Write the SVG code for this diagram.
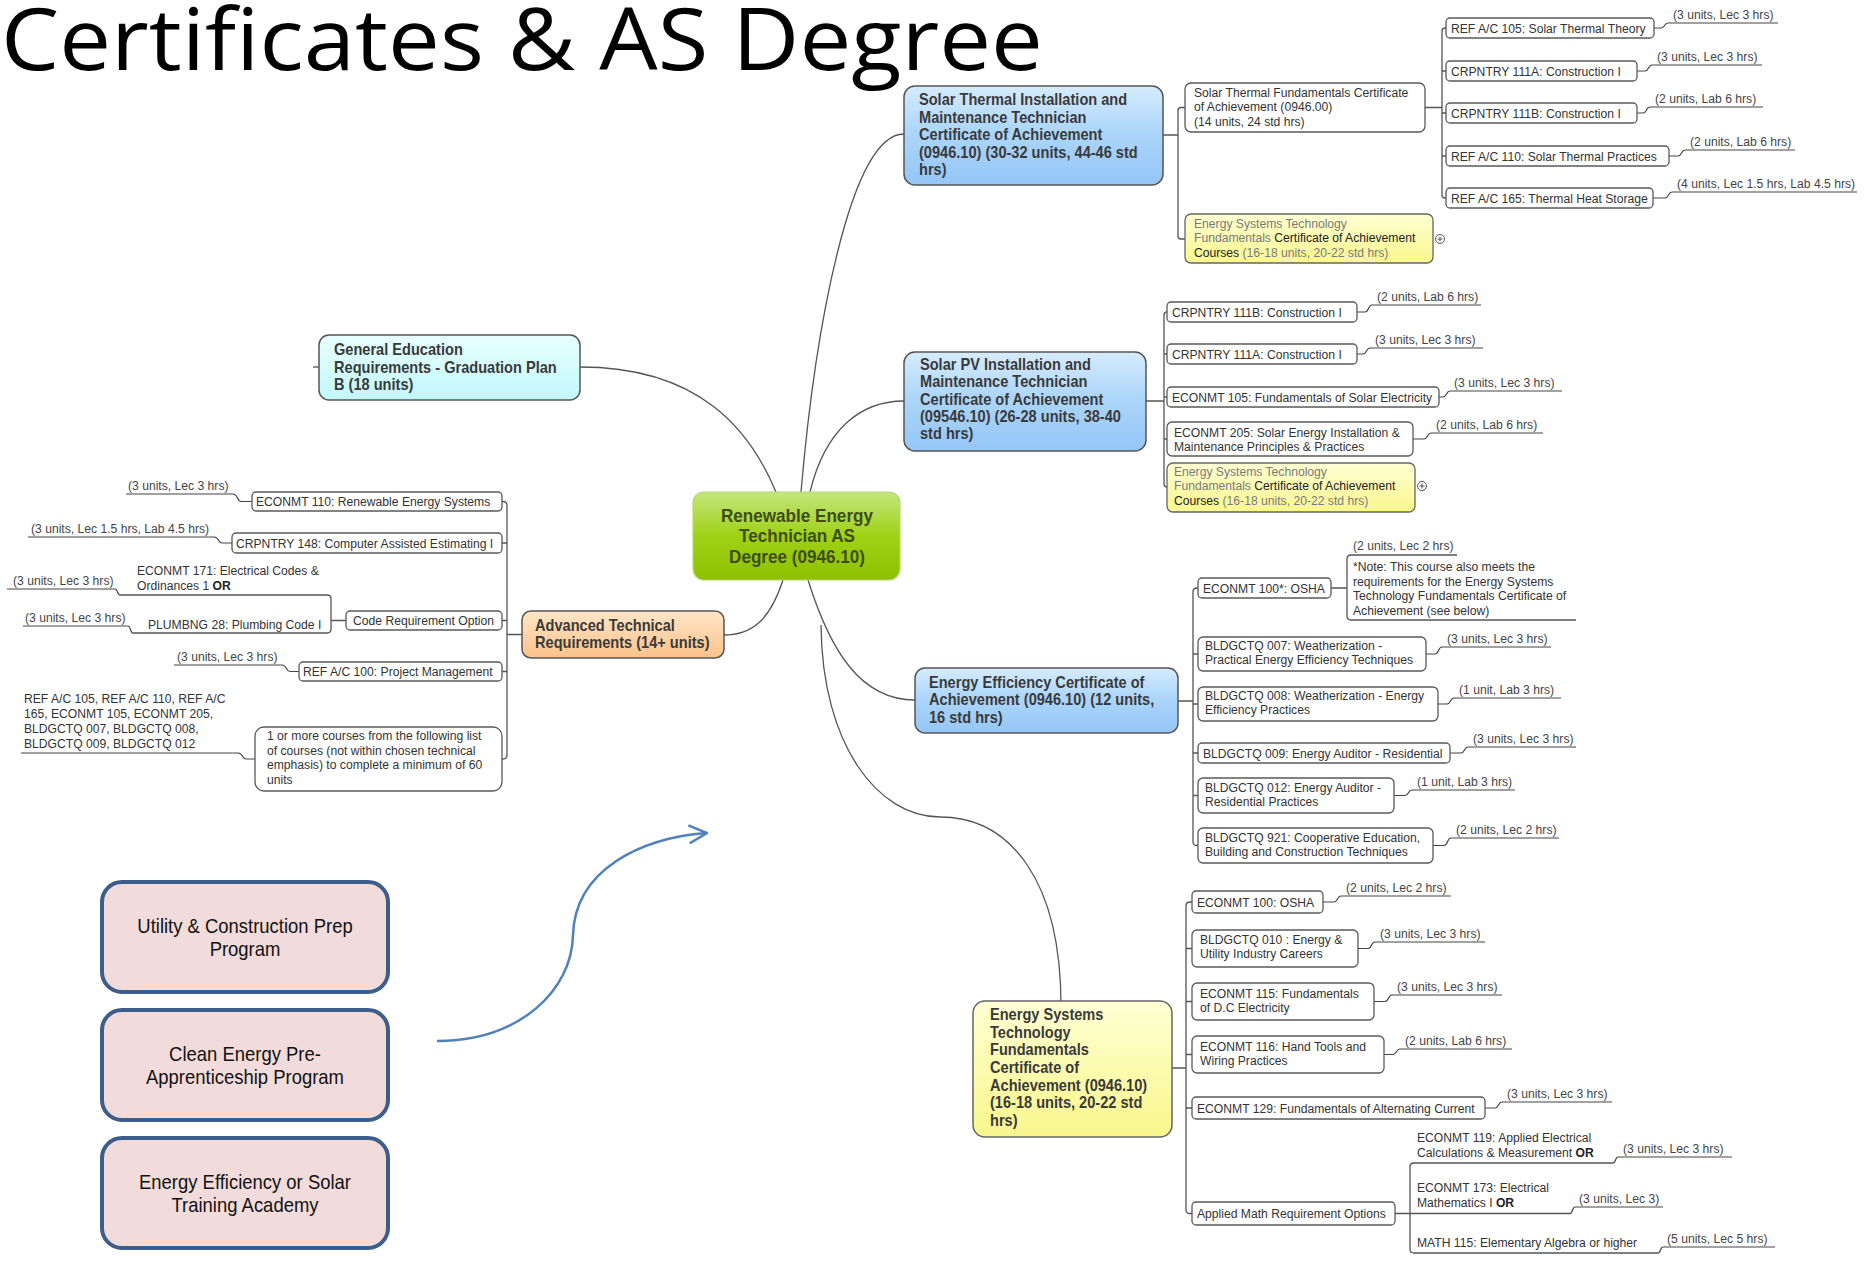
<svg xmlns="http://www.w3.org/2000/svg" width="1865" height="1261" viewBox="0 0 1865 1261">
<defs>
<style>
.c{font-family:"Liberation Sans",Arial,sans-serif;font-size:13.5px;fill:#333}
.l{font-family:"Liberation Sans",Arial,sans-serif;font-size:13.5px;fill:#444}
.b{font-family:"Liberation Sans",Arial,sans-serif;font-size:16.2px;font-weight:bold;fill:#3a3a3a}
.ctr{font-family:"Liberation Sans",Arial,sans-serif;font-size:19px;font-weight:bold;fill:#3e4d16;text-anchor:middle}
.g{fill:#7a7a7a}
.k{fill:#222}
.o{font-weight:bold;fill:#222}
.box{fill:#fff;stroke:#5a5a5a;stroke-width:1.3}
.ln{fill:none;stroke:#555;stroke-width:1.3}
.ul{fill:none;stroke:#444;stroke-width:1.2}
.pk{fill:#f2dcdb;stroke:#3b5e8c;stroke-width:4}
.pt{font-family:"Liberation Sans",Arial,sans-serif;font-size:20.5px;fill:#111;text-anchor:middle}
.nb{stroke:#555;stroke-width:1.5}
</style>
<linearGradient id="gb" x1="0" y1="0" x2="0" y2="1"><stop offset="0" stop-color="#d6ecfd"/><stop offset=".45" stop-color="#add6fa"/><stop offset="1" stop-color="#94c6f6"/></linearGradient>
<linearGradient id="gc" x1="0" y1="0" x2="0" y2="1"><stop offset="0" stop-color="#e8ffff"/><stop offset="1" stop-color="#c2f8fb"/></linearGradient>
<linearGradient id="go" x1="0" y1="0" x2="0" y2="1"><stop offset="0" stop-color="#ffe6c8"/><stop offset="1" stop-color="#fbc28a"/></linearGradient>
<linearGradient id="gy" x1="0" y1="0" x2="0" y2="1"><stop offset="0" stop-color="#ffffd4"/><stop offset="1" stop-color="#f9f78c"/></linearGradient>
<linearGradient id="gg" x1="0" y1="0" x2="0" y2="1"><stop offset="0" stop-color="#c4e67e"/><stop offset=".5" stop-color="#9fd116"/><stop offset="1" stop-color="#8dc100"/></linearGradient>
<marker id="ah" viewBox="0 0 20 20" refX="19" refY="10" markerWidth="20" markerHeight="20" markerUnits="userSpaceOnUse" orient="auto"><path d="M1,1 L19,10 L1,19" fill="none" stroke="#4f81bd" stroke-width="2.5"/></marker>
</defs>
<rect width="1865" height="1261" fill="#fff"/>

<text id="title" x="1" y="70" font-family="'Open Sans',sans-serif" font-size="86" fill="#000" textLength="1042" lengthAdjust="spacingAndGlyphs">Certificates &amp; AS Degree</text>

<g id="connectors">
<path class="ln" d="M580,367 C700,367 750,430 776,492"/>
<path class="ln" d="M313,367 H319"/>
<path class="ln" d="M801,492 C815,330 850,134 904,134"/>
<path class="ln" d="M810,492 C825,430 860,401 904,401"/>
<path class="ln" d="M783,580 C770,620 752,635 724,635"/>
<path class="ln" d="M808,580 C830,650 860,700 915,700"/>
<path class="ln" d="M821,625 C822,745 878,817 940,817 C1010,817 1061,880 1061,1006"/>
<path class="ln" d="M1163,135 H1178 M1185,107.5 H1181 Q1178,107.5 1178,110.5 V236 Q1178,239 1181,239 H1185"/>
<path class="ln" d="M1425,107.5 H1442 M1446,28 H1445 Q1442,28 1442,31 V195 Q1442,198 1445,198 H1446 M1442,71 H1446 M1442,113 H1446 M1442,156 H1446"/>
<path class="ln" d="M1146,401 H1164 M1167,312 Q1164,312 1164,315 V484 Q1164,487 1167,487 M1164,354 H1167 M1164,397 H1167 M1164,439 H1167"/>
<path class="ln" d="M1178,701 H1193 M1198,588 H1197 Q1193,588 1193,592 V842 Q1193,845.5 1197,845.5 H1198 M1193,654 H1198 M1193,704 H1198 M1193,753 H1198 M1193,795.5 H1198"/>
<path class="ln" d="M1331,588 H1347 M1457,555 H1351 Q1347,555 1347,559 V616 Q1347,620 1351,620 H1576"/>
<path class="ln" d="M1172,1068 H1186 M1192,902 H1190 Q1186,902 1186,906 V1210 Q1186,1213.5 1190,1213.5 H1192 M1186,948.5 H1192 M1186,1001.5 H1192 M1186,1054.5 H1192 M1186,1108 H1192"/>
<path class="ln" d="M1395,1213.5 H1570 M1613,1163 H1414 Q1410,1163 1410,1167 V1249 Q1410,1253 1414,1253 H1658"/>
<path class="ln" d="M522,634.5 H507 M502,501.5 H503 Q507,501.5 507,505.5 V755 Q507,759 503,759 H502 M502,543 H507 M502,620.5 H507 M502,671.5 H507"/>
<path class="ln" d="M346,620.5 H331 M120,595 H327 Q331,595 331,599 V629 Q331,633 327,633 H133"/>
<path class="ul" d="M1654,28 H1661 C1665,28 1664,23 1668,23 H1778"/>
<path class="ul" d="M1637,71 H1645 C1649,71 1648,65 1652,65 H1762"/>
<path class="ul" d="M1637,113 H1643 C1647,113 1646,107 1650,107 H1763"/>
<path class="ul" d="M1669,156 H1678 C1682,156 1681,150 1685,150 H1795"/>
<path class="ul" d="M1653,198 H1665 C1669,198 1668,192 1672,192 H1857"/>
<path class="ul" d="M1357,312 H1365 C1369,312 1368,305 1372,305 H1481"/>
<path class="ul" d="M1357,354 H1363 C1367,354 1366,348 1370,348 H1483"/>
<path class="ul" d="M1439,397 H1443 C1447,397 1446,391 1450,391 H1562"/>
<path class="ul" d="M1413,439 H1424 C1428,439 1427,433 1431,433 H1543"/>
<path class="ul" d="M1426,654 H1435 C1439,654 1438,647 1442,647 H1551"/>
<path class="ul" d="M1438,704 H1447 C1451,704 1450,698 1454,698 H1561"/>
<path class="ul" d="M1450,753 H1461 C1465,753 1464,747 1468,747 H1576"/>
<path class="ul" d="M1394,795.5 H1405 C1409,795.5 1408,790 1412,790 H1515"/>
<path class="ul" d="M1433,845.5 H1444 C1448,845.5 1447,838 1451,838 H1559"/>
<path class="ul" d="M1323,902 H1334 C1338,902 1337,896 1341,896 H1451"/>
<path class="ul" d="M1358,948.5 H1368 C1372,948.5 1371,942 1375,942 H1485"/>
<path class="ul" d="M1374,1001.5 H1385 C1389,1001.5 1388,995 1392,995 H1502"/>
<path class="ul" d="M1384,1054.5 H1393 C1397,1054.5 1396,1049 1400,1049 H1512"/>
<path class="ul" d="M1485,1108 H1495 C1499,1108 1498,1102 1502,1102 H1612"/>
<path class="ul" d="M1613,1163 C1616,1163 1615,1157 1618,1157 H1732"/>
<path class="ul" d="M1570,1213.5 C1573,1213.5 1572,1207 1575,1207 H1663"/>
<path class="ul" d="M1658,1253 C1661,1253 1660,1247 1663,1247 H1775"/>
<path class="ul" d="M252,501.5 H241 C237,501.5 238,494 233,494 H126"/>
<path class="ul" d="M232,543 H222 C218,543 219,537 214,537 H28"/>
<path class="ul" d="M120,595 C117,595 118,589 115,589 H7"/>
<path class="ul" d="M133,633 C130,633 131,626 128,626 H23"/>
<path class="ul" d="M299,671.5 H290 C286,671.5 287,665 282,665 H174"/>
<path class="ul" d="M255,759 H246 C242,759 243,753 238,753 H21"/>
<path d="M437,1041 C520,1041 572,990 573,935 C575,870 640,838 707,833" fill="none" stroke="#4f81bd" stroke-width="2.5" marker-end="url(#ah)"/>
</g>

<g id="center">
<rect x="693" y="492" width="207" height="88" rx="11" fill="url(#gg)" stroke="#b3d77a" stroke-width="1.2"/>
<text class="ctr" transform="translate(797,522) scale(.9,1)"><tspan x="0">Renewable Energy</tspan><tspan x="0" dy="20.5">Technician AS</tspan><tspan x="0" dy="20.5">Degree (0946.10)</tspan></text>
</g>

<g id="gen-ed">
<rect x="319" y="335" width="261" height="65" rx="10" fill="url(#gc)" class="nb"/>
<text class="b" transform="translate(334,355) scale(.9,1)"><tspan x="0">General Education</tspan><tspan x="0" dy="17.6">Requirements - Graduation Plan</tspan><tspan x="0" dy="17.6">B (18 units)</tspan></text>
</g>

<g id="solar-thermal">
<rect x="904" y="86" width="259" height="99" rx="11" fill="url(#gb)" class="nb"/>
<text class="b" transform="translate(919,105) scale(.9,1)"><tspan x="0">Solar Thermal Installation and</tspan><tspan x="0" dy="17.6">Maintenance Technician</tspan><tspan x="0" dy="17.6">Certificate of Achievement</tspan><tspan x="0" dy="17.6">(0946.10) (30-32 units, 44-46 std</tspan><tspan x="0" dy="17.6">hrs)</tspan></text>
</g>

<g id="st-fundamentals">
<rect class="box" x="1185" y="83" width="240" height="49" rx="6"/>
<text class="c" transform="translate(1194,97) scale(.9,1)"><tspan x="0">Solar Thermal Fundamentals Certificate</tspan><tspan x="0" dy="14.5">of Achievement (0946.00)</tspan><tspan x="0" dy="14.5">(14 units, 24 std hrs)</tspan></text>
</g>
<g id="st-ref105"><rect class="box" x="1446" y="18" width="208" height="20" rx="4"/><text class="c" transform="translate(1451,33) scale(.9,1)">REF A/C 105: Solar Thermal Theory</text><text class="l" transform="translate(1673,19) scale(.9,1)">(3 units, Lec 3 hrs)</text></g>
<g id="st-111a"><rect class="box" x="1446" y="61" width="191" height="20" rx="4"/><text class="c" transform="translate(1451,75.5) scale(.9,1)">CRPNTRY 111A:  Construction I</text><text class="l" transform="translate(1657,61) scale(.9,1)">(3 units, Lec 3 hrs)</text></g>
<g id="st-111b"><rect class="box" x="1446" y="103" width="191" height="20" rx="4"/><text class="c" transform="translate(1451,117.5) scale(.9,1)">CRPNTRY 111B:  Construction I</text><text class="l" transform="translate(1655,103) scale(.9,1)">(2 units, Lab 6 hrs)</text></g>
<g id="st-ref110"><rect class="box" x="1446" y="146" width="223" height="20" rx="4"/><text class="c" transform="translate(1451,160.5) scale(.9,1)">REF A/C 110: Solar Thermal Practices</text><text class="l" transform="translate(1690,146) scale(.9,1)">(2 units, Lab 6 hrs)</text></g>
<g id="st-ref165"><rect class="box" x="1446" y="188" width="207" height="20" rx="4"/><text class="c" transform="translate(1451,203) scale(.9,1)">REF A/C 165: Thermal Heat Storage</text><text class="l" transform="translate(1677,188) scale(.9,1)">(4 units, Lec 1.5 hrs, Lab 4.5 hrs)</text></g>
<g id="st-energy-systems">
<rect x="1185" y="214" width="248" height="49" rx="6" fill="url(#gy)" stroke="#666" stroke-width="1.3"/>
<text class="c" transform="translate(1194,228) scale(.9,1)"><tspan x="0" class="g">Energy Systems Technology</tspan><tspan x="0" dy="14.5"><tspan class="g">Fundamentals</tspan><tspan class="k"> Certificate of Achievement</tspan></tspan><tspan x="0" dy="14.5"><tspan class="k">Courses</tspan><tspan class="g"> (16-18 units, 20-22 std hrs)</tspan></tspan></text>
<circle cx="1440" cy="239" r="4.5" fill="#fff" stroke="#555" stroke-width="1"/><path d="M1437.5,239H1442.5M1440,236.5V241.5" stroke="#555" stroke-width="1"/>
</g>

<g id="solar-pv">
<rect x="904" y="352" width="242" height="99" rx="11" fill="url(#gb)" class="nb"/>
<text class="b" transform="translate(920,370) scale(.9,1)"><tspan x="0">Solar PV Installation and</tspan><tspan x="0" dy="17.3">Maintenance Technician</tspan><tspan x="0" dy="17.3">Certificate of Achievement</tspan><tspan x="0" dy="17.3">(09546.10) (26-28 units, 38-40</tspan><tspan x="0" dy="17.3">std hrs)</tspan></text>
</g>
<g id="pv-111b"><rect class="box" x="1167" y="302" width="190" height="20" rx="4"/><text class="c" transform="translate(1172,316.5) scale(.9,1)">CRPNTRY 111B:  Construction I</text><text class="l" transform="translate(1377,301) scale(.9,1)">(2 units, Lab 6 hrs)</text></g>
<g id="pv-111a"><rect class="box" x="1167" y="344" width="190" height="20" rx="4"/><text class="c" transform="translate(1172,359) scale(.9,1)">CRPNTRY 111A:  Construction I</text><text class="l" transform="translate(1375,344) scale(.9,1)">(3 units, Lec 3 hrs)</text></g>
<g id="pv-econmt105"><rect class="box" x="1167" y="387" width="272" height="20" rx="4"/><text class="c" transform="translate(1172,402) scale(.9,1)">ECONMT 105: Fundamentals of Solar Electricity</text><text class="l" transform="translate(1454,387) scale(.9,1)">(3 units, Lec 3 hrs)</text></g>
<g id="pv-econmt205"><rect class="box" x="1167" y="422" width="246" height="34" rx="5"/><text class="c" transform="translate(1174,437) scale(.9,1)"><tspan x="0">ECONMT 205: Solar Energy Installation &amp;</tspan><tspan x="0" dy="14">Maintenance Principles &amp; Practices</tspan></text><text class="l" transform="translate(1436,429) scale(.9,1)">(2 units, Lab 6 hrs)</text></g>
<g id="pv-energy-systems">
<rect x="1167" y="463" width="248" height="49" rx="6" fill="url(#gy)" stroke="#666" stroke-width="1.3"/>
<text class="c" transform="translate(1174,476) scale(.9,1)"><tspan x="0" class="g">Energy Systems Technology</tspan><tspan x="0" dy="14.5"><tspan class="g">Fundamentals</tspan><tspan class="k"> Certificate of Achievement</tspan></tspan><tspan x="0" dy="14.5"><tspan class="k">Courses</tspan><tspan class="g"> (16-18 units, 20-22 std hrs)</tspan></tspan></text>
<circle cx="1422" cy="486" r="4.5" fill="#fff" stroke="#555" stroke-width="1"/><path d="M1419.5,486H1424.5M1422,483.5V488.5" stroke="#555" stroke-width="1"/>
</g>

<g id="energy-efficiency">
<rect x="915" y="668" width="263" height="65" rx="10" fill="url(#gb)" class="nb"/>
<text class="b" transform="translate(929,688) scale(.9,1)"><tspan x="0">Energy Efficiency Certificate of</tspan><tspan x="0" dy="17.5">Achievement (0946.10) (12 units,</tspan><tspan x="0" dy="17.5">16 std hrs)</tspan></text>
</g>
<g id="ee-econmt100"><rect class="box" x="1198" y="578" width="133" height="20" rx="4"/><text class="c" transform="translate(1203,593) scale(.9,1)">ECONMT 100*: OSHA</text>
<text class="l" transform="translate(1353,550) scale(.9,1)">(2 units, Lec 2 hrs)</text>
<text class="c" transform="translate(1353,571) scale(.9,1)"><tspan x="0">*Note: This course also meets the</tspan><tspan x="0" dy="14.6">requirements for the Energy Systems</tspan><tspan x="0" dy="14.6">Technology Fundamentals Certificate of</tspan><tspan x="0" dy="14.6">Achievement (see below)</tspan></text></g>
<g id="ee-007"><rect class="box" x="1198" y="637" width="228" height="34" rx="5"/><text class="c" transform="translate(1205,650) scale(.9,1)"><tspan x="0">BLDGCTQ 007: Weatherization -</tspan><tspan x="0" dy="14.5">Practical Energy Efficiency Techniques</tspan></text><text class="l" transform="translate(1447,643) scale(.9,1)">(3 units, Lec 3 hrs)</text></g>
<g id="ee-008"><rect class="box" x="1198" y="687" width="240" height="34" rx="5"/><text class="c" transform="translate(1205,700) scale(.9,1)"><tspan x="0">BLDGCTQ 008: Weatherization - Energy</tspan><tspan x="0" dy="14.5">Efficiency Practices</tspan></text><text class="l" transform="translate(1459,694) scale(.9,1)">(1 unit, Lab 3 hrs)</text></g>
<g id="ee-009"><rect class="box" x="1198" y="743" width="252" height="20" rx="4"/><text class="c" transform="translate(1203,758) scale(.9,1)">BLDGCTQ 009: Energy Auditor - Residential</text><text class="l" transform="translate(1473,743) scale(.9,1)">(3 units, Lec 3 hrs)</text></g>
<g id="ee-012"><rect class="box" x="1198" y="778" width="196" height="35" rx="5"/><text class="c" transform="translate(1205,792) scale(.9,1)"><tspan x="0">BLDGCTQ 012: Energy Auditor -</tspan><tspan x="0" dy="14.5">Residential Practices</tspan></text><text class="l" transform="translate(1417,786) scale(.9,1)">(1 unit, Lab 3 hrs)</text></g>
<g id="ee-921"><rect class="box" x="1198" y="828" width="235" height="35" rx="5"/><text class="c" transform="translate(1205,842) scale(.9,1)"><tspan x="0">BLDGCTQ 921: Cooperative Education,</tspan><tspan x="0" dy="14.5">Building and Construction Techniques</tspan></text><text class="l" transform="translate(1456,834) scale(.9,1)">(2 units, Lec 2 hrs)</text></g>

<g id="energy-systems">
<rect x="973" y="1001" width="199" height="136" rx="12" fill="url(#gy)" stroke="#666" stroke-width="1.5"/>
<text class="b" transform="translate(990,1020) scale(.9,1)"><tspan x="0">Energy Systems</tspan><tspan x="0" dy="17.7">Technology</tspan><tspan x="0" dy="17.7">Fundamentals</tspan><tspan x="0" dy="17.7">Certificate of</tspan><tspan x="0" dy="17.7">Achievement (0946.10)</tspan><tspan x="0" dy="17.7">(16-18 units, 20-22 std</tspan><tspan x="0" dy="17.7">hrs)</tspan></text>
</g>
<g id="es-econmt100"><rect class="box" x="1192" y="891" width="131" height="22" rx="4"/><text class="c" transform="translate(1197,907) scale(.9,1)">ECONMT 100: OSHA</text><text class="l" transform="translate(1346,892) scale(.9,1)">(2 units, Lec 2 hrs)</text></g>
<g id="es-010"><rect class="box" x="1192" y="930" width="166" height="37" rx="5"/><text class="c" transform="translate(1200,944) scale(.9,1)"><tspan x="0">BLDGCTQ 010 : Energy &amp;</tspan><tspan x="0" dy="14.5">Utility Industry Careers</tspan></text><text class="l" transform="translate(1380,938) scale(.9,1)">(3 units, Lec 3 hrs)</text></g>
<g id="es-115"><rect class="box" x="1192" y="983" width="182" height="37" rx="5"/><text class="c" transform="translate(1200,998) scale(.9,1)"><tspan x="0">ECONMT 115: Fundamentals</tspan><tspan x="0" dy="14.5">of D.C Electricity</tspan></text><text class="l" transform="translate(1397,991) scale(.9,1)">(3 units, Lec 3 hrs)</text></g>
<g id="es-116"><rect class="box" x="1192" y="1036" width="192" height="37" rx="5"/><text class="c" transform="translate(1200,1051) scale(.9,1)"><tspan x="0">ECONMT 116: Hand Tools and</tspan><tspan x="0" dy="14.5">Wiring Practices</tspan></text><text class="l" transform="translate(1405,1045) scale(.9,1)">(2 units, Lab 6 hrs)</text></g>
<g id="es-129"><rect class="box" x="1192" y="1097" width="293" height="22" rx="4"/><text class="c" transform="translate(1197,1112.5) scale(.9,1)">ECONMT 129: Fundamentals of Alternating Current</text><text class="l" transform="translate(1507,1098) scale(.9,1)">(3 units, Lec 3 hrs)</text></g>
<g id="es-math"><rect class="box" x="1192" y="1202" width="203" height="23" rx="4"/><text class="c" transform="translate(1197,1218) scale(.9,1)">Applied Math Requirement Options</text>
<text class="c" transform="translate(1417,1142) scale(.9,1)"><tspan x="0">ECONMT 119: Applied Electrical</tspan><tspan x="0" dy="15">Calculations &amp; Measurement  <tspan class="o">OR</tspan></tspan></text>
<text class="l" transform="translate(1623,1153) scale(.9,1)">(3 units, Lec 3 hrs)</text>
<text class="c" transform="translate(1417,1192) scale(.9,1)"><tspan x="0">ECONMT 173: Electrical</tspan><tspan x="0" dy="15">Mathematics I <tspan class="o">OR</tspan></tspan></text>
<text class="l" transform="translate(1579,1203) scale(.9,1)">(3 units, Lec 3)</text>
<text class="c" transform="translate(1417,1247) scale(.9,1)">MATH 115: Elementary Algebra or higher</text>
<text class="l" transform="translate(1667,1243) scale(.9,1)">(5 units, Lec 5 hrs)</text></g>

<g id="advanced-technical">
<rect x="522" y="611" width="202" height="47" rx="9" fill="url(#go)" class="nb"/>
<text class="b" transform="translate(535,631) scale(.9,1)"><tspan x="0">Advanced Technical</tspan><tspan x="0" dy="17">Requirements (14+ units)</tspan></text>
</g>
<g id="at-econmt110"><rect class="box" x="252" y="492" width="250" height="19" rx="4"/><text class="c" transform="translate(256,506) scale(.9,1)">ECONMT 110:  Renewable Energy Systems</text><text class="l" transform="translate(128,490) scale(.9,1)">(3 units, Lec 3 hrs)</text></g>
<g id="at-crpntry148"><rect class="box" x="232" y="533" width="270" height="20" rx="4"/><text class="c" transform="translate(236,547.5) scale(.9,1)">CRPNTRY 148: Computer Assisted Estimating I</text><text class="l" transform="translate(31,533) scale(.9,1)">(3 units, Lec 1.5 hrs, Lab 4.5 hrs)</text></g>
<g id="at-code"><rect class="box" x="346" y="611" width="156" height="19" rx="4"/><text class="c" transform="translate(353,625) scale(.9,1)">Code Requirement Option</text>
<text class="c" transform="translate(137,575) scale(.9,1)"><tspan x="0">ECONMT 171: Electrical Codes &amp;</tspan><tspan x="0" dy="15">Ordinances 1 <tspan class="o">OR</tspan></tspan></text>
<text class="l" transform="translate(13,585) scale(.9,1)">(3 units, Lec 3 hrs)</text>
<text class="c" transform="translate(148,629) scale(.9,1)">PLUMBNG 28: Plumbing Code I</text>
<text class="l" transform="translate(25,622) scale(.9,1)">(3 units, Lec 3 hrs)</text></g>
<g id="at-ref100"><rect class="box" x="299" y="662" width="203" height="19" rx="4"/><text class="c" transform="translate(303,676) scale(.9,1)">REF A/C 100: Project Management</text><text class="l" transform="translate(177,661) scale(.9,1)">(3 units, Lec 3 hrs)</text></g>
<g id="at-elective"><rect class="box" x="255" y="727" width="247" height="64" rx="9"/><text class="c" transform="translate(267,740) scale(.9,1)"><tspan x="0">1 or more courses from the following list</tspan><tspan x="0" dy="14.6">of courses (not within chosen technical</tspan><tspan x="0" dy="14.6">emphasis) to complete a minimum of 60</tspan><tspan x="0" dy="14.6">units</tspan></text>
<text class="c" transform="translate(24,703) scale(.9,1)"><tspan x="0">REF A/C 105, REF A/C 110, REF A/C</tspan><tspan x="0" dy="15">165, ECONMT 105, ECONMT 205,</tspan><tspan x="0" dy="15">BLDGCTQ 007, BLDGCTQ 008,</tspan><tspan x="0" dy="15">BLDGCTQ 009, BLDGCTQ 012</tspan></text></g>

<g id="utility-prep"><rect class="pk" x="102" y="882" width="286" height="110" rx="20"/><text class="pt" transform="translate(245,933) scale(.9,1)"><tspan x="0">Utility &amp; Construction Prep</tspan><tspan x="0" dy="23">Program</tspan></text></g>
<g id="clean-energy"><rect class="pk" x="102" y="1010" width="286" height="110" rx="20"/><text class="pt" transform="translate(245,1061) scale(.9,1)"><tspan x="0">Clean Energy Pre-</tspan><tspan x="0" dy="23">Apprenticeship Program</tspan></text></g>
<g id="training-academy"><rect class="pk" x="102" y="1138" width="286" height="110" rx="20"/><text class="pt" transform="translate(245,1189) scale(.9,1)"><tspan x="0">Energy Efficiency or Solar</tspan><tspan x="0" dy="23">Training Academy</tspan></text></g>
</svg>
